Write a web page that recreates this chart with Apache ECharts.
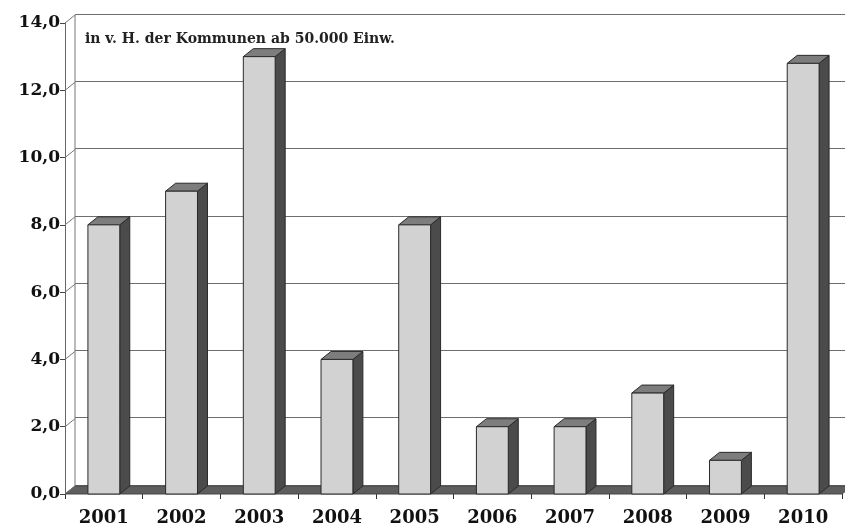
<!DOCTYPE html>
<html>
<head>
<meta charset="utf-8">
<script src="https://cdn.jsdelivr.net/npm/echarts@6/dist/echarts.min.js"></script>
<style>
  html, body { margin: 0; padding: 0; background: #fff; }
  #chart { width: 845px; height: 531px; }
</style>
</head>
<body>
<div id="chart"></div>
<script>
// Daten
const years = ['2001', '2002', '2003', '2004', '2005', '2006', '2007', '2008', '2009', '2010'];
const shares = [8.0, 9.0, 13.0, 4.0, 8.0, 2.0, 2.0, 3.0, 1.0, 12.8];
const yTicks = [0, 2, 4, 6, 8, 10, 12, 14];
const note = 'in v. H. der Kommunen ab 50.000 Einw.';

// 3D-Versatz (vorne -> hinten)
const DX = 10;
const DY = -8;
const serif = 'DejaVu Serif';

const myChart = echarts.init(document.getElementById('chart'));

const renderBar = (params, api) => {
  const idx = api.value(0);
  const top = api.coord([idx, api.value(1)]);
  const base = api.coord([idx, 0]);
  const bw = api.size([1, 0])[0] * 0.41;
  const x0 = top[0] - bw / 2;
  const x1 = top[0] + bw / 2;
  return {
    type: 'group',
    children: [
      {
        type: 'polygon',
        shape: { points: [[x1, top[1]], [x1 + DX, top[1] + DY], [x1 + DX, base[1] + DY], [x1, base[1]]] },
        style: { fill: '#4b4b4b', stroke: '#2a2a2a', lineWidth: 1 },
      },
      {
        type: 'polygon',
        shape: { points: [[x0, top[1]], [x1, top[1]], [x1 + DX, top[1] + DY], [x0 + DX, top[1] + DY]] },
        style: { fill: '#7d7d7d', stroke: '#2a2a2a', lineWidth: 1 },
      },
      {
        type: 'rect',
        shape: { x: x0, y: top[1], width: bw, height: base[1] - top[1] },
        style: { fill: '#d2d2d2', stroke: '#2a2a2a', lineWidth: 1 },
      },
    ],
  };
};

// Boden, Seitenwand, Verbindungslinien
const renderFrame = (params, api) => {
  const cs = params.coordSys;
  const yb = cs.y + cs.height;
  const children = [
    {
      type: 'polygon',
      shape: { points: [[cs.x, yb], [cs.x + cs.width, yb], [cs.x + cs.width + DX, yb + DY], [cs.x + DX, yb + DY]] },
      style: { fill: '#5e5e5e', stroke: '#444', lineWidth: 1 },
    },
    {
      type: 'line',
      shape: { x1: cs.x + DX, y1: cs.y + DY, x2: cs.x + DX, y2: yb + DY },
      style: { stroke: '#777', lineWidth: 1 },
    },
  ];
  yTicks.forEach((v) => {
    const py = api.coord([0, v])[1];
    children.push({
      type: 'line',
      shape: { x1: cs.x, y1: py, x2: cs.x + DX, y2: py + DY },
      style: { stroke: '#777', lineWidth: 1 },
    });
  });
  return { type: 'group', children };
};

const option = {
  backgroundColor: '#fff',
  animation: false,
  title: {
    text: note,
    left: 80,
    top: 27,
    textStyle: { fontFamily: serif, fontSize: 14, fontWeight: 'bold', color: '#222' },
  },
  grid: [
    // Rueckwand
    { left: 75, top: 14, right: -5, bottom: 46 },
    // Vorderkante
    { left: 65, top: 23, right: 3, bottom: 37 },
  ],
  xAxis: [
    { gridIndex: 0, type: 'category', data: years, show: false },
    {
      gridIndex: 1,
      type: 'category',
      data: years,
      axisLine: { show: false },
      axisTick: { show: true, length: 5, lineStyle: { color: '#333' } },
      axisLabel: { margin: 15, fontFamily: serif, fontSize: 18, fontWeight: 'bold', color: '#111' },
    },
  ],
  yAxis: [
    {
      gridIndex: 0,
      type: 'value',
      min: 0,
      max: 14,
      interval: 2,
      axisLine: { show: false },
      axisTick: { show: false },
      axisLabel: { show: false },
      splitLine: { show: true, lineStyle: { color: '#6e6e6e', width: 1 } },
    },
    {
      gridIndex: 1,
      type: 'value',
      min: 0,
      max: 14,
      interval: 2,
      axisLine: { show: true, lineStyle: { color: '#666' } },
      axisTick: { show: true, length: 5, lineStyle: { color: '#444' } },
      splitLine: { show: false },
      axisLabel: {
        margin: 5,
        fontFamily: serif,
        fontSize: 17,
        fontWeight: 'bold',
        color: '#111',
        formatter: v => v.toFixed(1).replace('.', ','),
      },
    },
  ],
  series: [
    {
      type: 'custom',
      xAxisIndex: 1,
      yAxisIndex: 1,
      renderItem: renderFrame,
      data: [[0, 0]],
      silent: true,
      z: 1,
    },
    {
      type: 'custom',
      xAxisIndex: 1,
      yAxisIndex: 1,
      renderItem: renderBar,
      data: shares.map((v, i) => [i, v]),
      z: 2,
    },
  ],
};

myChart.setOption(option);

window.addEventListener('resize', () => {
  myChart.resize();
});
</script>
</body>
</html>
